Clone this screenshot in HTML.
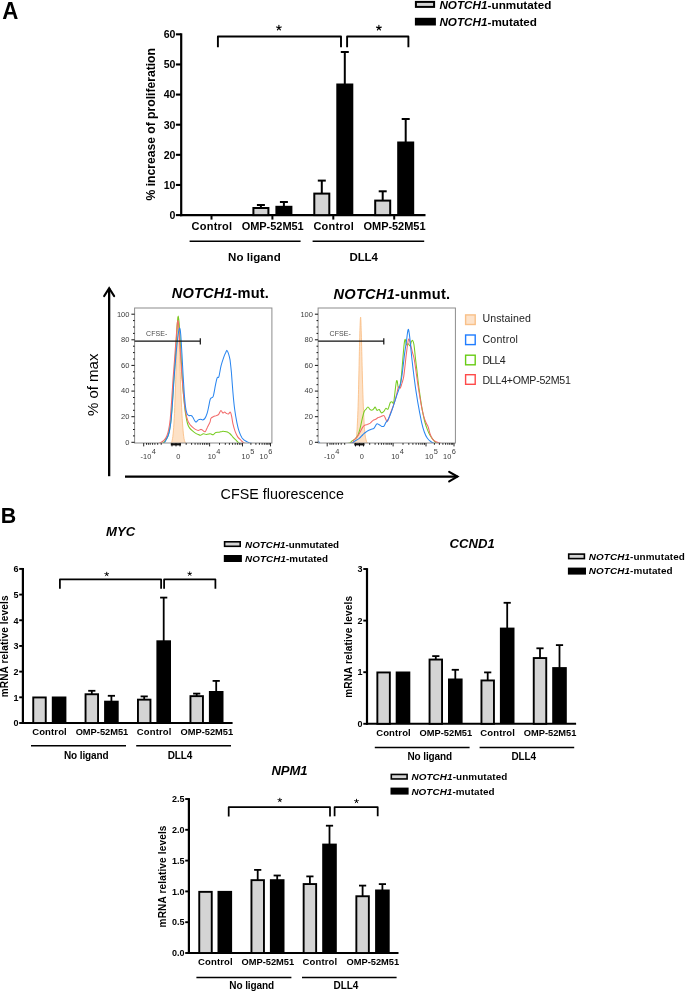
<!DOCTYPE html>
<html><head><meta charset="utf-8"><title>Figure</title>
<style>
html,body{margin:0;padding:0;background:#fff;}
body{width:685px;height:992px;overflow:hidden;font-family:"Liberation Sans",sans-serif;}
svg{display:block;font-family:"Liberation Sans",sans-serif;will-change:transform;}
</style></head><body>
<svg width="685" height="992" viewBox="0 0 685 992">
<rect x="0" y="0" width="685" height="992" fill="#fff"/>

<text transform="translate(2.2,19) scale(1,1.055)" font-size="22.3" font-weight="bold">A</text>
<text transform="translate(0.7,522.8) scale(0.96,1.03)" font-size="22.3" font-weight="bold">B</text>
<line x1="181.2" y1="33.3" x2="181.2" y2="216.2" stroke="#000" stroke-width="2.2" stroke-linecap="butt"/>
<line x1="180.1" y1="215.1" x2="425.5" y2="215.1" stroke="#000" stroke-width="2.2" stroke-linecap="butt"/>
<line x1="175.89999999999998" y1="215.1" x2="181.2" y2="215.1" stroke="#000" stroke-width="2.1" stroke-linecap="butt"/>
<text x="175.5" y="218.9" font-size="10.6" font-weight="bold" font-style="normal" text-anchor="end" fill="#000">0</text>
<line x1="175.89999999999998" y1="184.97" x2="181.2" y2="184.97" stroke="#000" stroke-width="2.1" stroke-linecap="butt"/>
<text x="175.5" y="188.77" font-size="10.6" font-weight="bold" font-style="normal" text-anchor="end" fill="#000">10</text>
<line x1="175.89999999999998" y1="154.84" x2="181.2" y2="154.84" stroke="#000" stroke-width="2.1" stroke-linecap="butt"/>
<text x="175.5" y="158.64000000000001" font-size="10.6" font-weight="bold" font-style="normal" text-anchor="end" fill="#000">20</text>
<line x1="175.89999999999998" y1="124.71" x2="181.2" y2="124.71" stroke="#000" stroke-width="2.1" stroke-linecap="butt"/>
<text x="175.5" y="128.51" font-size="10.6" font-weight="bold" font-style="normal" text-anchor="end" fill="#000">30</text>
<line x1="175.89999999999998" y1="94.58" x2="181.2" y2="94.58" stroke="#000" stroke-width="2.1" stroke-linecap="butt"/>
<text x="175.5" y="98.38" font-size="10.6" font-weight="bold" font-style="normal" text-anchor="end" fill="#000">40</text>
<line x1="175.89999999999998" y1="64.44999999999999" x2="181.2" y2="64.44999999999999" stroke="#000" stroke-width="2.1" stroke-linecap="butt"/>
<text x="175.5" y="68.24999999999999" font-size="10.6" font-weight="bold" font-style="normal" text-anchor="end" fill="#000">50</text>
<line x1="175.89999999999998" y1="34.31999999999999" x2="181.2" y2="34.31999999999999" stroke="#000" stroke-width="2.1" stroke-linecap="butt"/>
<text x="175.5" y="38.11999999999999" font-size="10.6" font-weight="bold" font-style="normal" text-anchor="end" fill="#000">60</text>
<text transform="translate(155.3,124.3) rotate(-90)" font-size="12.2" font-weight="bold" text-anchor="middle" fill="#000" textLength="152.5" lengthAdjust="spacing">% increase of proliferation</text>
<line x1="211.5" y1="215.1" x2="211.5" y2="219.6" stroke="#000" stroke-width="2" stroke-linecap="butt"/>
<line x1="272.4" y1="215.1" x2="272.4" y2="219.6" stroke="#000" stroke-width="2" stroke-linecap="butt"/>
<line x1="333.3" y1="215.1" x2="333.3" y2="219.6" stroke="#000" stroke-width="2" stroke-linecap="butt"/>
<line x1="394.2" y1="215.1" x2="394.2" y2="219.6" stroke="#000" stroke-width="2" stroke-linecap="butt"/>
<line x1="260.9" y1="205" x2="260.9" y2="208" stroke="#000" stroke-width="2" stroke-linecap="butt"/>
<line x1="256.9" y1="205" x2="264.9" y2="205" stroke="#000" stroke-width="2" stroke-linecap="butt"/>
<rect x="253.40" y="208.00" width="15.00" height="7.10" fill="#d4d4d4" stroke="#000" stroke-width="2"/>
<line x1="283.9" y1="202" x2="283.9" y2="206.8" stroke="#000" stroke-width="2" stroke-linecap="butt"/>
<line x1="279.9" y1="202" x2="287.9" y2="202" stroke="#000" stroke-width="2" stroke-linecap="butt"/>
<rect x="275.40" y="205.80" width="17.00" height="9.30" fill="#000"/>
<line x1="321.8" y1="180.6" x2="321.8" y2="193.6" stroke="#000" stroke-width="2" stroke-linecap="butt"/>
<line x1="317.8" y1="180.6" x2="325.8" y2="180.6" stroke="#000" stroke-width="2" stroke-linecap="butt"/>
<rect x="314.30" y="193.60" width="15.00" height="21.50" fill="#d4d4d4" stroke="#000" stroke-width="2"/>
<line x1="344.8" y1="52" x2="344.8" y2="84.5" stroke="#000" stroke-width="2" stroke-linecap="butt"/>
<line x1="340.8" y1="52" x2="348.8" y2="52" stroke="#000" stroke-width="2" stroke-linecap="butt"/>
<rect x="336.30" y="83.50" width="17.00" height="131.60" fill="#000"/>
<line x1="382.7" y1="191.3" x2="382.7" y2="200.6" stroke="#000" stroke-width="2" stroke-linecap="butt"/>
<line x1="378.7" y1="191.3" x2="386.7" y2="191.3" stroke="#000" stroke-width="2" stroke-linecap="butt"/>
<rect x="375.20" y="200.60" width="15.00" height="14.50" fill="#d4d4d4" stroke="#000" stroke-width="2"/>
<line x1="405.7" y1="119" x2="405.7" y2="142.5" stroke="#000" stroke-width="2" stroke-linecap="butt"/>
<line x1="401.7" y1="119" x2="409.7" y2="119" stroke="#000" stroke-width="2" stroke-linecap="butt"/>
<rect x="397.20" y="141.50" width="17.00" height="73.60" fill="#000"/>
<text x="211.8" y="229.7" font-size="11" font-weight="bold" font-style="normal" text-anchor="middle" fill="#000" textLength="40.4" lengthAdjust="spacing">Control</text>
<text x="272.7" y="229.7" font-size="11" font-weight="bold" font-style="normal" text-anchor="middle" fill="#000" textLength="62" lengthAdjust="spacing">OMP-52M51</text>
<text x="333.6" y="229.7" font-size="11" font-weight="bold" font-style="normal" text-anchor="middle" fill="#000" textLength="40.4" lengthAdjust="spacing">Control</text>
<text x="394.5" y="229.7" font-size="11" font-weight="bold" font-style="normal" text-anchor="middle" fill="#000" textLength="62" lengthAdjust="spacing">OMP-52M51</text>
<line x1="189.6" y1="241.3" x2="300.6" y2="241.3" stroke="#000" stroke-width="1.6" stroke-linecap="butt"/>
<line x1="312.6" y1="241.3" x2="424.2" y2="241.3" stroke="#000" stroke-width="1.6" stroke-linecap="butt"/>
<text x="254.4" y="260.6" font-size="11.5" font-weight="bold" font-style="normal" text-anchor="middle" fill="#000" textLength="52.6" lengthAdjust="spacing">No ligand</text>
<text x="363.7" y="260.6" font-size="11.5" font-weight="bold" font-style="normal" text-anchor="middle" fill="#000" textLength="28.5" lengthAdjust="spacing">DLL4</text>
<polyline points="217.9,47.3 217.9,36.5 341.0,36.5 341.0,47.3" fill="none" stroke="#000" stroke-width="1.9" stroke-linejoin="round"/>
<polyline points="347.1,47.3 347.1,36.5 408.4,36.5 408.4,47.3" fill="none" stroke="#000" stroke-width="1.9" stroke-linejoin="round"/>
<path d="M278.90,27.80L278.90,25.30 M278.90,27.80L281.28,27.03 M278.90,27.80L280.37,29.82 M278.90,27.80L277.43,29.82 M278.90,27.80L276.52,27.03" stroke="#000" stroke-width="1.15" stroke-linecap="round" fill="none"/>
<path d="M378.90,27.90L378.90,25.40 M378.90,27.90L381.28,27.13 M378.90,27.90L380.37,29.92 M378.90,27.90L377.43,29.92 M378.90,27.90L376.52,27.13" stroke="#000" stroke-width="1.15" stroke-linecap="round" fill="none"/>
<rect x="415.90" y="1.90" width="18.20" height="5.00" fill="#d4d4d4" stroke="#000" stroke-width="2.0"/>
<rect x="414.90" y="17.80" width="21.00" height="7.70" fill="#000"/>
<text x="439.4" y="8.8" font-size="11.7" font-weight="bold" textLength="112.0" lengthAdjust="spacing"><tspan font-style="italic">NOTCH1</tspan>-unmutated</text>
<text x="439.4" y="25.5" font-size="11.7" font-weight="bold" textLength="97.6" lengthAdjust="spacing"><tspan font-style="italic">NOTCH1</tspan>-mutated</text>
<line x1="109.15" y1="476.2" x2="109.15" y2="288" stroke="#000" stroke-width="2.3" stroke-linecap="butt"/>
<polyline points="104.2,296.0 109.15,288.2 114.1,296.0" fill="none" stroke="#000" stroke-width="2.2" stroke-linecap="round"/>
<line x1="125" y1="476.6" x2="457.6" y2="476.6" stroke="#000" stroke-width="2.2" stroke-linecap="butt"/>
<polyline points="449.2,471.9 457.4,476.6 449.2,481.4" fill="none" stroke="#000" stroke-width="2.2" stroke-linecap="round"/>
<text transform="translate(97.7,384.8) rotate(-90)" font-size="15" font-weight="normal" text-anchor="middle" fill="#000" textLength="62.5" lengthAdjust="spacing">% of max</text>
<text x="220.6" y="498.5" font-size="14.3" font-weight="normal" font-style="normal" text-anchor="start" fill="#000" textLength="123.3" lengthAdjust="spacing">CFSE fluorescence</text>
<text x="171.8" y="298.4" font-size="14.6" font-weight="bold" textLength="97" lengthAdjust="spacing"><tspan font-style="italic">NOTCH1</tspan>-mut.</text>
<clipPath id="clip134"><rect x="134.6" y="308.0" width="137.3" height="135.0"/></clipPath>
<g clip-path="url(#clip134)">
<path d="M170.9,443.4 C171.1,442.9 171.8,442.4 172.2,440.4 C172.6,438.4 173.1,435.2 173.4,430.9 C173.8,426.6 174.1,420.3 174.5,413.3 C174.8,406.3 175.1,396.1 175.5,387.0 C175.8,377.8 176.2,365.4 176.5,356.2 C176.8,347.1 177.1,336.2 177.4,329.9 C177.6,323.6 177.9,316.7 178.1,316.7 C178.3,316.7 178.6,323.6 178.8,329.9 C179.1,336.2 179.4,347.1 179.7,356.2 C180.0,365.4 180.4,377.8 180.7,387.0 C181.1,396.1 181.5,406.3 181.9,413.3 C182.3,420.3 182.7,426.6 183.1,430.9 C183.5,435.2 183.9,438.4 184.4,440.4 C184.9,442.4 185.8,442.9 186.0,443.4 Z" fill="#fde1c6" stroke="#f9c088" stroke-width="0.9"/>
<path d="M135.5,443.4 C138.1,443.4 147.7,443.4 151.9,443.4 C156.1,443.4 159.6,443.9 161.7,443.4 C163.9,442.9 164.4,441.6 165.4,440.4 C166.3,439.2 167.2,437.8 167.9,436.0 C168.5,434.3 169.1,432.1 169.6,429.4 C170.1,426.7 170.6,423.9 171.1,419.2 C171.5,414.5 172.1,406.7 172.5,400.1 C173.0,393.6 173.4,384.7 173.9,378.2 C174.3,371.6 174.8,365.5 175.2,359.1 C175.6,352.8 176.0,344.5 176.4,338.7 C176.7,332.8 177.1,326.2 177.4,322.6 C177.7,318.9 178.0,316.0 178.2,316.0 C178.5,316.0 178.8,318.9 179.1,322.6 C179.4,326.2 179.8,332.6 180.1,338.7 C180.5,344.8 181.0,353.8 181.3,360.6 C181.7,367.4 182.1,374.8 182.5,381.1 C182.9,387.4 183.4,394.8 184.0,400.1 C184.5,405.5 185.1,411.0 185.7,414.8 C186.3,418.5 186.9,421.4 187.5,423.5 C188.1,425.7 188.7,426.8 189.5,427.9 C190.3,429.1 191.5,430.1 192.5,430.9 C193.4,431.7 194.4,432.5 195.4,433.1 C196.3,433.7 197.5,434.2 198.3,434.5 C199.1,434.9 199.7,435.4 200.5,435.3 C201.3,435.1 202.5,433.9 203.4,433.8 C204.4,433.7 205.3,434.5 206.4,434.5 C207.4,434.5 209.3,433.9 210.0,433.8 C210.8,433.7 210.5,433.9 211.0,434.0 C211.5,434.2 212.4,434.9 213.2,434.7 C214.0,434.4 214.9,432.9 215.8,432.5 C216.8,432.1 218.4,432.4 219.3,432.3 C220.3,432.1 221.1,431.5 222.0,431.4 C222.8,431.2 223.7,431.3 224.6,431.4 C225.5,431.5 226.5,431.6 227.4,432.0 C228.4,432.5 229.4,433.2 230.3,434.0 C231.2,434.8 232.0,436.1 232.9,437.1 C233.8,438.1 234.9,439.1 236.0,440.1 C237.0,441.2 238.2,442.9 239.5,443.4 C240.8,444.0 241.8,443.4 243.9,443.4 C246.0,443.4 251.2,443.4 252.6,443.4" fill="none" stroke="#78cc22" stroke-width="1.05" stroke-linejoin="round"/>
<path d="M135.5,443.4 C138.1,443.4 148.2,443.4 151.9,443.4 C155.6,443.4 156.9,443.9 158.8,443.4 C160.7,442.9 162.6,441.6 163.9,440.4 C165.2,439.2 166.1,437.8 166.8,436.0 C167.6,434.3 168.2,432.1 168.7,429.4 C169.3,426.7 169.7,423.9 170.2,419.2 C170.7,414.5 171.2,406.7 171.7,400.1 C172.1,393.6 172.7,384.7 173.1,378.2 C173.6,371.6 174.1,365.5 174.6,359.1 C175.1,352.8 175.6,344.3 176.1,338.7 C176.5,333.1 177.0,327.0 177.2,324.0 C177.5,321.1 177.6,320.4 177.8,320.4 C178.0,320.4 178.3,321.3 178.5,324.0 C178.8,326.7 179.1,331.8 179.4,337.2 C179.8,342.6 180.3,350.9 180.7,357.7 C181.2,364.5 181.7,373.0 182.2,379.6 C182.7,386.3 183.4,394.0 184.0,399.4 C184.5,404.8 185.3,409.9 185.9,413.3 C186.5,416.7 187.1,418.9 187.8,420.6 C188.4,422.4 189.1,423.2 189.8,424.3 C190.6,425.3 191.6,426.4 192.5,427.2 C193.3,428.0 194.4,428.9 195.4,429.4 C196.3,429.9 197.4,430.4 198.3,430.4 C199.2,430.4 200.4,429.3 201.2,429.4 C202.1,429.5 202.8,430.5 203.4,430.9 C204.1,431.2 204.7,432.1 205.3,431.6 C205.9,431.1 206.3,429.5 207.1,427.9 C207.8,426.4 209.4,423.7 210.0,422.1 C210.6,420.6 210.4,419.1 211.0,418.2 C211.6,417.4 212.8,416.9 213.6,416.5 C214.5,416.1 215.7,416.0 216.5,415.6 C217.3,415.3 218.0,415.1 218.7,414.3 C219.4,413.5 220.2,410.8 220.9,410.6 C221.5,410.4 222.3,412.7 222.8,413.0 C223.4,413.2 224.0,412.0 224.6,412.1 C225.2,412.2 225.7,413.2 226.4,413.4 C227.0,413.7 227.9,414.1 228.5,413.9 C229.2,413.7 229.8,411.8 230.3,412.1 C230.8,412.5 231.2,414.2 231.6,416.1 C232.0,417.9 232.4,421.3 232.9,423.7 C233.5,426.2 234.3,429.3 235.1,431.4 C235.9,433.5 236.8,435.5 237.7,436.9 C238.6,438.3 239.6,439.1 240.8,440.1 C242.0,441.2 243.1,442.9 245.0,443.4 C246.9,444.0 251.4,443.4 252.6,443.4" fill="none" stroke="#f26a6a" stroke-width="1.05" stroke-linejoin="round"/>
<path d="M135.5,443.4 C138.1,443.4 147.5,443.4 151.9,443.4 C156.3,443.4 160.9,444.0 163.2,443.4 C165.4,442.8 165.3,441.0 166.1,439.7 C166.9,438.4 167.7,436.9 168.3,435.3 C168.9,433.6 169.3,432.0 169.8,429.4 C170.2,426.8 170.8,423.9 171.2,419.2 C171.7,414.5 172.2,406.7 172.7,400.1 C173.1,393.6 173.7,384.7 174.1,378.2 C174.6,371.6 175.1,364.8 175.6,359.1 C176.1,353.5 176.6,347.4 177.1,343.1 C177.5,338.7 178.1,334.5 178.5,332.1 C179.0,329.7 179.4,327.8 179.7,328.1 C180.1,328.5 180.4,330.2 180.7,334.3 C181.1,338.3 181.5,346.7 181.9,353.3 C182.3,359.9 182.7,368.9 183.1,375.3 C183.5,381.6 183.9,387.9 184.2,392.8 C184.6,397.7 185.0,402.7 185.4,406.0 C185.8,409.3 186.4,411.8 186.9,413.3 C187.4,414.8 188.1,415.2 188.8,415.5 C189.5,415.9 190.4,415.3 191.0,415.5 C191.6,415.7 192.2,416.2 192.7,417.0 C193.3,417.8 194.1,419.8 194.6,420.6 C195.2,421.5 195.5,422.2 196.1,422.1 C196.7,422.0 197.6,420.4 198.3,419.9 C199.0,419.4 199.8,419.2 200.5,419.2 C201.2,419.2 202.0,420.0 202.7,419.9 C203.4,419.8 204.2,419.5 204.9,418.4 C205.6,417.4 206.5,415.1 207.1,413.3 C207.7,411.6 208.1,409.6 208.5,407.5 C209.0,405.3 209.6,401.6 210.0,400.1 C210.4,398.6 210.5,398.7 211.0,398.1 C211.5,397.5 212.5,398.4 213.2,396.4 C213.9,394.3 214.8,388.4 215.4,385.4 C216.0,382.4 216.6,379.1 217.2,377.7 C217.7,376.3 218.3,378.6 218.9,376.6 C219.5,374.7 220.3,368.8 221.1,365.7 C221.9,362.6 223.0,359.4 223.7,357.4 C224.4,355.3 224.9,354.1 225.5,353.0 C226.0,351.9 226.5,350.3 227.0,350.4 C227.5,350.5 228.0,352.1 228.5,353.6 C229.0,355.2 229.6,357.2 230.1,360.2 C230.5,363.2 230.9,367.2 231.4,372.3 C231.8,377.3 232.4,386.0 232.9,392.0 C233.4,397.9 234.0,404.6 234.7,409.5 C235.3,414.4 236.2,419.1 236.9,422.6 C237.6,426.1 238.2,428.9 239.1,431.4 C239.9,433.8 241.0,436.4 242.1,438.0 C243.2,439.5 244.4,440.4 246.1,441.2 C247.7,442.1 248.8,443.1 252.6,443.4 C256.5,443.8 267.3,443.4 270.1,443.4" fill="none" stroke="#2a86f0" stroke-width="1.05" stroke-linejoin="round"/>
</g>
<rect x="134.6" y="308.0" width="137.3" height="135.0" fill="none" stroke="#8c8c8c" stroke-width="1"/>
<path d="M131.4,442.3H134.6 M133.0,435.9H134.6 M133.0,429.5H134.6 M133.0,423.1H134.6 M131.4,416.7H134.6 M133.0,410.3H134.6 M133.0,403.9H134.6 M133.0,397.5H134.6 M131.4,391.1H134.6 M133.0,384.7H134.6 M133.0,378.2H134.6 M133.0,371.8H134.6 M131.4,365.4H134.6 M133.0,359.0H134.6 M133.0,352.6H134.6 M133.0,346.2H134.6 M131.4,339.8H134.6 M133.0,333.4H134.6 M133.0,327.0H134.6 M133.0,320.6H134.6 M131.4,314.2H134.6" stroke="#111" stroke-width="1" fill="none"/>
<text x="129.4" y="444.6" font-size="7.5" text-anchor="end" fill="#3c3c3c">0</text>
<text x="129.4" y="419.0" font-size="7.5" text-anchor="end" fill="#3c3c3c">20</text>
<text x="129.4" y="393.4" font-size="7.5" text-anchor="end" fill="#3c3c3c">40</text>
<text x="129.4" y="367.7" font-size="7.5" text-anchor="end" fill="#3c3c3c">60</text>
<text x="129.4" y="342.1" font-size="7.5" text-anchor="end" fill="#3c3c3c">80</text>
<text x="129.4" y="316.5" font-size="7.5" text-anchor="end" fill="#3c3c3c">100</text>
<path d="M143.7,443.0v3.4 M209.6,443.0v3.4 M242.5,443.0v3.4 M270.5,443.0v3.4 M146.5,443.0v1.8 M148.4,443.0v1.8 M150.2,443.0v1.8 M152.6,443.0v1.8 M154.9,443.0v1.8 M157.7,443.0v1.8 M161.2,443.0v1.8 M186.2,443.0v1.8 M191.6,443.0v1.8 M195.1,443.0v1.8 M197.9,443.0v1.8 M200.2,443.0v1.8 M202.6,443.0v1.8 M204.4,443.0v1.8 M206.3,443.0v1.8 M207.9,443.0v1.8 M219.5,443.0v1.8 M225.3,443.0v1.8 M229.4,443.0v1.8 M232.6,443.0v1.8 M235.2,443.0v1.8 M237.4,443.0v1.8 M239.3,443.0v1.8 M241.0,443.0v1.8 M250.9,443.0v1.8 M255.9,443.0v1.8 M259.4,443.0v1.8 M262.1,443.0v1.8 M264.3,443.0v1.8 M266.2,443.0v1.8 M267.8,443.0v1.8 M269.2,443.0v1.8" stroke="#111" stroke-width="0.9" fill="none"/>
<rect x="170.8" y="443.2" width="10.2" height="2.2" fill="#111"/>
<path d="M172.0,443.0v3.4M176.0,443.0v3.4M180.0,443.0v3.4" stroke="#111" stroke-width="1" fill="none"/>
<text x="140.6" y="459.4" font-size="7.4" fill="#3c3c3c">-10<tspan dy="-5.2" dx="0.4">4</tspan></text>
<text x="176.3" y="459.4" font-size="7.4" fill="#3c3c3c">0</text>
<text x="207.7" y="459.4" font-size="7.4" fill="#3c3c3c">10<tspan dy="-5.2" dx="0.4">4</tspan></text>
<text x="241.6" y="459.4" font-size="7.4" fill="#3c3c3c">10<tspan dy="-5.2" dx="0.4">5</tspan></text>
<text x="259.6" y="459.4" font-size="7.4" fill="#3c3c3c">10<tspan dy="-5.2" dx="0.4">6</tspan></text>
<path d="M134.6,341.2H200.3M200.3,338.3V344.6" stroke="#111" stroke-width="1.2" fill="none"/>
<text x="146.1" y="335.8" font-size="7" fill="#4a4a4a" textLength="21.2" lengthAdjust="spacing">CFSE-</text>
<clipPath id="clip318"><rect x="318.1" y="308.0" width="137.3" height="135.0"/></clipPath>
<g clip-path="url(#clip318)">
<path d="M354.5,443.4 C354.7,442.9 355.6,442.4 356.0,440.1 C356.4,437.9 356.7,435.2 357.1,429.2 C357.4,423.2 357.9,413.1 358.2,402.9 C358.5,392.8 358.8,377.3 359.1,365.7 C359.3,354.1 359.7,338.4 359.9,330.7 C360.2,322.9 360.4,317.1 360.6,317.1 C360.8,317.1 361.0,322.9 361.2,330.7 C361.5,338.4 361.8,354.1 362.1,365.7 C362.4,377.3 362.8,392.8 363.2,402.9 C363.6,413.1 364.1,423.2 364.5,429.2 C365.0,435.2 365.5,437.9 366.1,440.1 C366.6,442.4 367.5,442.9 367.8,443.4 Z" fill="#fde1c6" stroke="#f9c088" stroke-width="0.9"/>
<path d="M318.8,443.4 C323.3,443.4 342.0,443.8 347.2,443.4 C352.5,443.1 350.4,441.9 351.6,441.2 C352.8,440.5 353.9,439.9 354.9,439.1 C355.9,438.2 356.9,437.3 357.7,435.8 C358.5,434.2 359.2,431.8 359.9,429.2 C360.6,426.6 361.5,422.1 362.1,419.3 C362.8,416.5 363.5,413.3 364.1,411.7 C364.7,410.0 365.4,409.8 366.1,409.1 C366.7,408.3 367.4,407.0 368.0,407.1 C368.7,407.2 369.3,409.0 370.0,409.5 C370.7,410.0 371.6,410.3 372.2,410.1 C372.8,410.0 373.5,409.1 373.9,408.6 C374.4,408.1 374.8,406.8 375.3,407.1 C375.7,407.4 376.4,410.0 377.0,410.4 C377.6,410.8 378.5,409.1 379.2,409.5 C379.9,409.9 380.7,412.4 381.4,412.8 C382.1,413.1 382.9,412.4 383.6,411.7 C384.3,411.0 385.1,408.8 385.8,408.4 C386.5,408.0 387.3,409.9 388.0,409.1 C388.7,408.2 389.5,404.1 390.1,402.9 C390.8,401.8 391.3,401.8 391.9,401.8 C392.5,401.8 393.2,404.5 393.6,402.9 C394.1,401.3 394.5,395.3 395.0,392.0 C395.4,388.6 395.9,383.9 396.3,382.1 C396.6,380.4 396.8,380.2 397.2,381.0 C397.5,381.8 397.8,386.3 398.2,387.2 C398.7,388.0 399.3,388.2 399.8,386.5 C400.3,384.8 400.8,381.0 401.3,376.6 C401.8,372.3 402.4,364.4 402.8,359.1 C403.3,353.9 403.8,346.9 404.2,343.8 C404.5,340.6 404.9,339.2 405.3,339.4 C405.6,339.6 406.1,344.2 406.6,344.9 C407.1,345.6 407.8,343.6 408.3,343.8 C408.9,344.0 409.6,346.3 410.1,346.0 C410.6,345.6 411.0,342.5 411.4,341.6 C411.8,340.7 412.3,340.0 412.7,340.5 C413.1,341.0 413.6,342.3 414.0,344.9 C414.4,347.5 414.9,352.9 415.3,356.9 C415.8,361.0 416.3,365.5 416.9,370.1 C417.4,374.6 418.0,380.7 418.6,385.4 C419.2,390.1 420.0,395.4 420.6,399.6 C421.2,403.8 421.9,408.2 422.6,411.7 C423.2,415.2 424.0,418.7 424.7,421.5 C425.5,424.4 426.5,427.4 427.4,429.6 C428.2,431.8 429.1,433.7 430.0,435.3 C430.9,436.9 431.9,438.4 433.1,439.7 C434.2,441.0 435.3,442.8 437.0,443.4 C438.7,444.0 441.1,443.4 443.6,443.4 C446.0,443.4 450.9,443.4 452.3,443.4" fill="none" stroke="#78cc22" stroke-width="1.05" stroke-linejoin="round"/>
<path d="M318.8,443.4 C323.7,443.4 343.8,444.0 349.4,443.4 C355.0,442.9 352.6,441.2 353.8,440.1 C355.0,439.1 356.1,438.1 357.1,436.9 C358.1,435.6 359.1,434.0 359.9,432.5 C360.8,431.0 361.8,428.6 362.6,427.4 C363.3,426.3 364.0,425.7 364.7,425.3 C365.5,424.8 366.5,424.7 367.4,424.4 C368.2,424.0 369.3,423.7 370.2,423.1 C371.1,422.4 372.2,421.0 373.1,420.4 C373.9,419.8 374.9,419.8 375.7,419.3 C376.5,418.9 377.4,418.0 378.3,417.6 C379.2,417.1 380.3,416.8 381.2,416.5 C382.1,416.2 383.3,415.2 384.0,415.6 C384.8,416.1 385.3,418.4 385.8,419.3 C386.3,420.3 386.7,421.8 387.1,421.8 C387.5,421.8 387.8,420.8 388.4,419.3 C389.0,417.9 389.9,414.7 390.6,412.8 C391.3,410.8 392.1,409.2 392.8,407.3 C393.5,405.4 394.3,402.8 395.0,400.7 C395.6,398.6 396.2,396.3 396.7,394.2 C397.2,392.1 397.8,388.8 398.2,387.6 C398.7,386.4 399.0,386.4 399.3,386.5 C399.7,386.6 400.0,388.6 400.4,388.0 C400.9,387.5 401.4,385.0 402.0,383.2 C402.5,381.4 403.2,379.8 403.7,376.6 C404.2,373.5 404.8,367.7 405.3,363.5 C405.7,359.3 406.3,354.2 406.8,350.4 C407.3,346.5 408.0,340.8 408.5,339.4 C409.0,338.0 409.4,340.4 409.9,341.6 C410.3,342.8 410.7,345.3 411.2,347.1 C411.6,348.8 412.0,350.6 412.5,352.6 C413.0,354.5 413.7,356.1 414.2,359.1 C414.8,362.1 415.4,367.0 416.0,371.2 C416.6,375.4 417.3,381.2 418.0,385.4 C418.6,389.6 419.3,393.6 419.9,397.4 C420.6,401.3 421.4,406.2 422.1,409.5 C422.8,412.8 423.6,416.0 424.3,418.2 C425.0,420.5 425.9,422.3 426.5,423.7 C427.1,425.1 427.7,425.4 428.2,427.0 C428.8,428.6 429.3,431.6 430.0,433.6 C430.7,435.5 431.7,437.8 432.6,439.1 C433.6,440.3 434.5,441.0 435.9,441.7 C437.3,442.4 438.8,443.2 441.4,443.4 C444.0,443.7 450.6,443.4 452.3,443.4" fill="none" stroke="#f26a6a" stroke-width="1.05" stroke-linejoin="round"/>
<path d="M318.3,441.0 C318.6,441.4 319.3,443.0 320.1,443.4 C320.8,443.8 318.4,443.4 323.1,443.4 C327.8,443.4 344.3,443.8 349.4,443.4 C354.5,443.0 353.3,441.8 354.9,441.0 C356.5,440.2 358.0,439.4 359.3,438.4 C360.6,437.3 361.9,435.5 363.0,434.5 C364.1,433.4 365.1,432.7 366.1,432.0 C367.0,431.4 367.8,430.7 368.7,430.3 C369.5,429.8 370.5,429.5 371.3,429.2 C372.2,428.9 373.1,429.2 373.9,428.3 C374.8,427.5 375.9,424.5 376.8,423.9 C377.6,423.4 378.4,424.4 379.2,424.8 C380.0,425.2 381.1,426.1 381.8,426.4 C382.6,426.6 383.4,426.7 384.0,426.1 C384.6,425.5 385.1,423.8 385.8,422.6 C386.5,421.5 387.6,420.5 388.4,418.9 C389.2,417.3 390.2,415.0 391.0,412.8 C391.9,410.6 392.8,407.7 393.6,405.1 C394.5,402.6 395.5,399.2 396.3,396.8 C397.1,394.3 398.0,392.1 398.7,389.8 C399.4,387.4 400.2,385.4 400.9,382.1 C401.5,378.8 402.3,373.5 402.8,369.0 C403.4,364.4 404.0,358.0 404.6,353.6 C405.2,349.3 405.8,345.5 406.4,341.6 C406.9,337.8 407.6,330.7 408.1,329.6 C408.6,328.4 409.0,331.8 409.4,334.6 C409.8,337.4 410.3,342.6 410.7,347.1 C411.2,351.5 411.7,357.7 412.3,362.4 C412.8,367.1 413.5,372.3 414.0,376.6 C414.6,381.0 415.2,385.8 415.8,389.8 C416.4,393.8 417.1,398.1 417.7,401.8 C418.4,405.5 419.0,409.3 419.7,412.8 C420.4,416.3 421.2,420.6 421.9,423.7 C422.6,426.8 423.5,429.8 424.3,432.0 C425.1,434.3 426.2,436.5 427.2,438.0 C428.1,439.4 429.2,440.4 430.4,441.2 C431.7,442.1 431.3,443.1 434.8,443.4 C438.3,443.8 449.5,443.4 452.3,443.4" fill="none" stroke="#2a86f0" stroke-width="1.05" stroke-linejoin="round"/>
</g>
<rect x="318.1" y="308.0" width="137.3" height="135.0" fill="none" stroke="#8c8c8c" stroke-width="1"/>
<path d="M314.9,442.3H318.1 M316.5,435.9H318.1 M316.5,429.5H318.1 M316.5,423.1H318.1 M314.9,416.7H318.1 M316.5,410.3H318.1 M316.5,403.9H318.1 M316.5,397.5H318.1 M314.9,391.1H318.1 M316.5,384.7H318.1 M316.5,378.2H318.1 M316.5,371.8H318.1 M314.9,365.4H318.1 M316.5,359.0H318.1 M316.5,352.6H318.1 M316.5,346.2H318.1 M314.9,339.8H318.1 M316.5,333.4H318.1 M316.5,327.0H318.1 M316.5,320.6H318.1 M314.9,314.2H318.1" stroke="#111" stroke-width="1" fill="none"/>
<text x="312.9" y="444.6" font-size="7.5" text-anchor="end" fill="#3c3c3c">0</text>
<text x="312.9" y="419.0" font-size="7.5" text-anchor="end" fill="#3c3c3c">20</text>
<text x="312.9" y="393.4" font-size="7.5" text-anchor="end" fill="#3c3c3c">40</text>
<text x="312.9" y="367.7" font-size="7.5" text-anchor="end" fill="#3c3c3c">60</text>
<text x="312.9" y="342.1" font-size="7.5" text-anchor="end" fill="#3c3c3c">80</text>
<text x="312.9" y="316.5" font-size="7.5" text-anchor="end" fill="#3c3c3c">100</text>
<path d="M327.2,443.0v3.4 M393.1,443.0v3.4 M426.0,443.0v3.4 M454.0,443.0v3.4 M330.0,443.0v1.8 M331.9,443.0v1.8 M333.7,443.0v1.8 M336.1,443.0v1.8 M338.4,443.0v1.8 M341.2,443.0v1.8 M344.7,443.0v1.8 M369.7,443.0v1.8 M375.1,443.0v1.8 M378.6,443.0v1.8 M381.4,443.0v1.8 M383.7,443.0v1.8 M386.1,443.0v1.8 M387.9,443.0v1.8 M389.8,443.0v1.8 M391.4,443.0v1.8 M403.0,443.0v1.8 M408.8,443.0v1.8 M412.9,443.0v1.8 M416.1,443.0v1.8 M418.7,443.0v1.8 M420.9,443.0v1.8 M422.8,443.0v1.8 M424.5,443.0v1.8 M434.4,443.0v1.8 M439.4,443.0v1.8 M442.9,443.0v1.8 M445.6,443.0v1.8 M447.8,443.0v1.8 M449.7,443.0v1.8 M451.3,443.0v1.8 M452.7,443.0v1.8" stroke="#111" stroke-width="0.9" fill="none"/>
<rect x="354.3" y="443.2" width="10.2" height="2.2" fill="#111"/>
<path d="M355.5,443.0v3.4M359.5,443.0v3.4M363.5,443.0v3.4" stroke="#111" stroke-width="1" fill="none"/>
<text x="324.1" y="459.4" font-size="7.4" fill="#3c3c3c">-10<tspan dy="-5.2" dx="0.4">4</tspan></text>
<text x="359.8" y="459.4" font-size="7.4" fill="#3c3c3c">0</text>
<text x="391.2" y="459.4" font-size="7.4" fill="#3c3c3c">10<tspan dy="-5.2" dx="0.4">4</tspan></text>
<text x="425.1" y="459.4" font-size="7.4" fill="#3c3c3c">10<tspan dy="-5.2" dx="0.4">5</tspan></text>
<text x="443.1" y="459.4" font-size="7.4" fill="#3c3c3c">10<tspan dy="-5.2" dx="0.4">6</tspan></text>
<path d="M318.1,341.2H383.8M383.8,338.3V344.6" stroke="#111" stroke-width="1.2" fill="none"/>
<text x="329.6" y="335.8" font-size="7" fill="#4a4a4a" textLength="21.2" lengthAdjust="spacing">CFSE-</text>
<text x="333.5" y="298.5" font-size="14.6" font-weight="bold" textLength="116.6" lengthAdjust="spacing"><tspan font-style="italic">NOTCH1</tspan>-unmut.</text>
<rect x="465.6" y="314.9" width="9.6" height="9.6" fill="#fde3cb" stroke="#f9c088" stroke-width="1.4"/>
<text x="482.4" y="321.9" font-size="10.6" fill="#222" textLength="48.6" lengthAdjust="spacing">Unstained</text>
<rect x="465.6" y="335.0" width="9.6" height="9.6" fill="#fff" stroke="#1f7cff" stroke-width="1.4"/>
<text x="482.4" y="343.4" font-size="10.6" fill="#222" textLength="35.5" lengthAdjust="spacing">Control</text>
<rect x="465.6" y="355.2" width="9.6" height="9.6" fill="#fff" stroke="#68cc14" stroke-width="1.4"/>
<text x="482.4" y="363.5" font-size="10.6" fill="#222" textLength="23.2" lengthAdjust="spacing">DLL4</text>
<rect x="465.6" y="374.7" width="9.6" height="9.6" fill="#fff" stroke="#ff4a4a" stroke-width="1.4"/>
<text x="482.4" y="383.9" font-size="10.6" fill="#222" textLength="88.5" lengthAdjust="spacing">DLL4+OMP-52M51</text>
<line x1="22.9" y1="568.0" x2="22.9" y2="724.0" stroke="#000" stroke-width="2.2" stroke-linecap="butt"/>
<line x1="21.799999999999997" y1="723.0" x2="232.6" y2="723.0" stroke="#000" stroke-width="2.1" stroke-linecap="butt"/>
<line x1="19.2" y1="723.0" x2="22.9" y2="723.0" stroke="#000" stroke-width="1.9" stroke-linecap="butt"/>
<text x="18.4" y="726.25" font-size="9" font-weight="bold" font-style="normal" text-anchor="end" fill="#000">0</text>
<line x1="19.2" y1="697.3166666666666" x2="22.9" y2="697.3166666666666" stroke="#000" stroke-width="1.9" stroke-linecap="butt"/>
<text x="18.4" y="700.5666666666666" font-size="9" font-weight="bold" font-style="normal" text-anchor="end" fill="#000">1</text>
<line x1="19.2" y1="671.6333333333333" x2="22.9" y2="671.6333333333333" stroke="#000" stroke-width="1.9" stroke-linecap="butt"/>
<text x="18.4" y="674.8833333333333" font-size="9" font-weight="bold" font-style="normal" text-anchor="end" fill="#000">2</text>
<line x1="19.2" y1="645.95" x2="22.9" y2="645.95" stroke="#000" stroke-width="1.9" stroke-linecap="butt"/>
<text x="18.4" y="649.2" font-size="9" font-weight="bold" font-style="normal" text-anchor="end" fill="#000">3</text>
<line x1="19.2" y1="620.2666666666667" x2="22.9" y2="620.2666666666667" stroke="#000" stroke-width="1.9" stroke-linecap="butt"/>
<text x="18.4" y="623.5166666666667" font-size="9" font-weight="bold" font-style="normal" text-anchor="end" fill="#000">4</text>
<line x1="19.2" y1="594.5833333333333" x2="22.9" y2="594.5833333333333" stroke="#000" stroke-width="1.9" stroke-linecap="butt"/>
<text x="18.4" y="597.8333333333333" font-size="9" font-weight="bold" font-style="normal" text-anchor="end" fill="#000">5</text>
<line x1="19.2" y1="568.9" x2="22.9" y2="568.9" stroke="#000" stroke-width="1.9" stroke-linecap="butt"/>
<text x="18.4" y="572.15" font-size="9" font-weight="bold" font-style="normal" text-anchor="end" fill="#000">6</text>
<text transform="translate(7.9,646.45) rotate(-90)" font-size="10" font-weight="bold" text-anchor="middle" fill="#000" textLength="101.8" lengthAdjust="spacing">mRNA relative levels</text>
<rect x="33.25" y="697.45" width="12.50" height="25.55" fill="#d4d4d4" stroke="#000" stroke-width="1.9"/>
<rect x="51.80" y="696.50" width="14.60" height="26.50" fill="#000"/>
<text x="49.45" y="735.4" font-size="9.5" font-weight="bold" font-style="normal" text-anchor="middle" fill="#000" textLength="34.6" lengthAdjust="spacing">Control</text>
<line x1="91.8" y1="690.8" x2="91.8" y2="694.3" stroke="#000" stroke-width="1.8" stroke-linecap="butt"/>
<line x1="88.2" y1="690.8" x2="95.39999999999999" y2="690.8" stroke="#000" stroke-width="1.8" stroke-linecap="butt"/>
<rect x="85.55" y="694.25" width="12.50" height="28.75" fill="#d4d4d4" stroke="#000" stroke-width="1.9"/>
<line x1="111.4" y1="695.8" x2="111.4" y2="701.7" stroke="#000" stroke-width="1.8" stroke-linecap="butt"/>
<line x1="107.80000000000001" y1="695.8" x2="115.0" y2="695.8" stroke="#000" stroke-width="1.8" stroke-linecap="butt"/>
<rect x="104.10" y="700.70" width="14.60" height="22.30" fill="#000"/>
<text x="101.95" y="735.4" font-size="9.3" font-weight="bold" font-style="normal" text-anchor="middle" fill="#000" textLength="52.6" lengthAdjust="spacing">OMP-52M51</text>
<line x1="144.2" y1="696.4" x2="144.2" y2="699.7" stroke="#000" stroke-width="1.8" stroke-linecap="butt"/>
<line x1="140.6" y1="696.4" x2="147.79999999999998" y2="696.4" stroke="#000" stroke-width="1.8" stroke-linecap="butt"/>
<rect x="137.95" y="699.65" width="12.50" height="23.35" fill="#d4d4d4" stroke="#000" stroke-width="1.9"/>
<line x1="163.7" y1="597.6" x2="163.7" y2="641.3" stroke="#000" stroke-width="1.8" stroke-linecap="butt"/>
<line x1="160.1" y1="597.6" x2="167.29999999999998" y2="597.6" stroke="#000" stroke-width="1.8" stroke-linecap="butt"/>
<rect x="156.40" y="640.30" width="14.60" height="82.70" fill="#000"/>
<text x="154.09999999999997" y="735.4" font-size="9.5" font-weight="bold" font-style="normal" text-anchor="middle" fill="#000" textLength="34.6" lengthAdjust="spacing">Control</text>
<line x1="196.7" y1="693.6" x2="196.7" y2="696.2" stroke="#000" stroke-width="1.8" stroke-linecap="butt"/>
<line x1="193.1" y1="693.6" x2="200.29999999999998" y2="693.6" stroke="#000" stroke-width="1.8" stroke-linecap="butt"/>
<rect x="190.45" y="696.15" width="12.50" height="26.85" fill="#d4d4d4" stroke="#000" stroke-width="1.9"/>
<line x1="216.2" y1="680.9" x2="216.2" y2="692.0" stroke="#000" stroke-width="1.8" stroke-linecap="butt"/>
<line x1="212.6" y1="680.9" x2="219.79999999999998" y2="680.9" stroke="#000" stroke-width="1.8" stroke-linecap="butt"/>
<rect x="208.90" y="691.00" width="14.60" height="32.00" fill="#000"/>
<text x="206.79999999999998" y="735.4" font-size="9.3" font-weight="bold" font-style="normal" text-anchor="middle" fill="#000" textLength="52.6" lengthAdjust="spacing">OMP-52M51</text>
<line x1="31" y1="745.8" x2="126" y2="745.8" stroke="#000" stroke-width="1.5" stroke-linecap="butt"/>
<line x1="136.2" y1="745.8" x2="231" y2="745.8" stroke="#000" stroke-width="1.5" stroke-linecap="butt"/>
<text x="86.3" y="759.0" font-size="10" font-weight="bold" font-style="normal" text-anchor="middle" fill="#000" textLength="44.8" lengthAdjust="spacing">No ligand</text>
<text x="180.0" y="759.0" font-size="10" font-weight="bold" font-style="normal" text-anchor="middle" fill="#000" textLength="24.6" lengthAdjust="spacing">DLL4</text>
<text x="106.0" y="536.0" font-size="13.1" font-weight="bold" font-style="italic" text-anchor="start" fill="#000" textLength="29.3" lengthAdjust="spacing">MYC</text>
<rect x="224.60" y="541.80" width="15.60" height="4.50" fill="#d4d4d4" stroke="#000" stroke-width="1.6"/>
<rect x="223.80" y="555.00" width="18.10" height="7.00" fill="#000"/>
<text x="245.1" y="547.8" font-size="9.8" font-weight="bold" textLength="94.0" lengthAdjust="spacing"><tspan font-style="italic">NOTCH1</tspan>-unmutated</text>
<text x="245.1" y="561.6" font-size="9.8" font-weight="bold" textLength="83.0" lengthAdjust="spacing"><tspan font-style="italic">NOTCH1</tspan>-mutated</text>
<polyline points="59.9,588.8 59.9,579.3 161.1,579.3 161.1,588.8" fill="none" stroke="#000" stroke-width="1.75" stroke-linejoin="round"/>
<polyline points="164.1,588.8 164.1,579.3 215.4,579.3 215.4,588.8" fill="none" stroke="#000" stroke-width="1.75" stroke-linejoin="round"/>
<path d="M106.70,574.20L106.70,572.25 M106.70,574.20L108.55,573.60 M106.70,574.20L107.85,575.78 M106.70,574.20L105.55,575.78 M106.70,574.20L104.85,573.60" stroke="#000" stroke-width="0.9" stroke-linecap="round" fill="none"/>
<path d="M189.70,573.80L189.70,571.85 M189.70,573.80L191.55,573.20 M189.70,573.80L190.85,575.38 M189.70,573.80L188.55,575.38 M189.70,573.80L187.85,573.20" stroke="#000" stroke-width="0.9" stroke-linecap="round" fill="none"/>
<line x1="367.0" y1="568.1" x2="367.0" y2="724.8" stroke="#000" stroke-width="2.2" stroke-linecap="butt"/>
<line x1="365.9" y1="723.8" x2="576.1" y2="723.8" stroke="#000" stroke-width="2.1" stroke-linecap="butt"/>
<line x1="363.3" y1="723.8" x2="367.0" y2="723.8" stroke="#000" stroke-width="1.9" stroke-linecap="butt"/>
<text x="362.5" y="727.05" font-size="9" font-weight="bold" font-style="normal" text-anchor="end" fill="#000">0</text>
<line x1="363.3" y1="672.1999999999999" x2="367.0" y2="672.1999999999999" stroke="#000" stroke-width="1.9" stroke-linecap="butt"/>
<text x="362.5" y="675.4499999999999" font-size="9" font-weight="bold" font-style="normal" text-anchor="end" fill="#000">1</text>
<line x1="363.3" y1="620.6" x2="367.0" y2="620.6" stroke="#000" stroke-width="1.9" stroke-linecap="butt"/>
<text x="362.5" y="623.85" font-size="9" font-weight="bold" font-style="normal" text-anchor="end" fill="#000">2</text>
<line x1="363.3" y1="569.0" x2="367.0" y2="569.0" stroke="#000" stroke-width="1.9" stroke-linecap="butt"/>
<text x="362.5" y="572.25" font-size="9" font-weight="bold" font-style="normal" text-anchor="end" fill="#000">3</text>
<text transform="translate(351.8,646.9) rotate(-90)" font-size="10" font-weight="bold" text-anchor="middle" fill="#000" textLength="101.8" lengthAdjust="spacing">mRNA relative levels</text>
<rect x="377.35" y="672.45" width="12.50" height="51.35" fill="#d4d4d4" stroke="#000" stroke-width="1.9"/>
<rect x="395.70" y="671.50" width="14.60" height="52.30" fill="#000"/>
<text x="393.44999999999993" y="736.2" font-size="9.5" font-weight="bold" font-style="normal" text-anchor="middle" fill="#000" textLength="34.6" lengthAdjust="spacing">Control</text>
<line x1="435.8" y1="656.1" x2="435.8" y2="659.6" stroke="#000" stroke-width="1.8" stroke-linecap="butt"/>
<line x1="432.2" y1="656.1" x2="439.40000000000003" y2="656.1" stroke="#000" stroke-width="1.8" stroke-linecap="butt"/>
<rect x="429.55" y="659.55" width="12.50" height="64.25" fill="#d4d4d4" stroke="#000" stroke-width="1.9"/>
<line x1="455.29999999999995" y1="669.8" x2="455.29999999999995" y2="679.5" stroke="#000" stroke-width="1.8" stroke-linecap="butt"/>
<line x1="451.69999999999993" y1="669.8" x2="458.9" y2="669.8" stroke="#000" stroke-width="1.8" stroke-linecap="butt"/>
<rect x="448.00" y="678.50" width="14.60" height="45.30" fill="#000"/>
<text x="445.9" y="736.2" font-size="9.3" font-weight="bold" font-style="normal" text-anchor="middle" fill="#000" textLength="52.6" lengthAdjust="spacing">OMP-52M51</text>
<line x1="487.7" y1="672.4" x2="487.7" y2="680.5" stroke="#000" stroke-width="1.8" stroke-linecap="butt"/>
<line x1="484.09999999999997" y1="672.4" x2="491.3" y2="672.4" stroke="#000" stroke-width="1.8" stroke-linecap="butt"/>
<rect x="481.45" y="680.45" width="12.50" height="43.35" fill="#d4d4d4" stroke="#000" stroke-width="1.9"/>
<line x1="507.2" y1="602.8" x2="507.2" y2="628.6" stroke="#000" stroke-width="1.8" stroke-linecap="butt"/>
<line x1="503.59999999999997" y1="602.8" x2="510.8" y2="602.8" stroke="#000" stroke-width="1.8" stroke-linecap="butt"/>
<rect x="499.90" y="627.60" width="14.60" height="96.20" fill="#000"/>
<text x="497.59999999999997" y="736.2" font-size="9.5" font-weight="bold" font-style="normal" text-anchor="middle" fill="#000" textLength="34.6" lengthAdjust="spacing">Control</text>
<line x1="540.0" y1="648.3" x2="540.0" y2="658.1" stroke="#000" stroke-width="1.8" stroke-linecap="butt"/>
<line x1="536.4" y1="648.3" x2="543.6" y2="648.3" stroke="#000" stroke-width="1.8" stroke-linecap="butt"/>
<rect x="533.75" y="658.05" width="12.50" height="65.75" fill="#d4d4d4" stroke="#000" stroke-width="1.9"/>
<line x1="559.5" y1="645.1" x2="559.5" y2="668.1" stroke="#000" stroke-width="1.8" stroke-linecap="butt"/>
<line x1="555.9" y1="645.1" x2="563.1" y2="645.1" stroke="#000" stroke-width="1.8" stroke-linecap="butt"/>
<rect x="552.20" y="667.10" width="14.60" height="56.70" fill="#000"/>
<text x="550.1" y="736.2" font-size="9.3" font-weight="bold" font-style="normal" text-anchor="middle" fill="#000" textLength="52.6" lengthAdjust="spacing">OMP-52M51</text>
<line x1="374.8" y1="747.6" x2="469.6" y2="747.6" stroke="#000" stroke-width="1.5" stroke-linecap="butt"/>
<line x1="479.6" y1="747.6" x2="574.2" y2="747.6" stroke="#000" stroke-width="1.5" stroke-linecap="butt"/>
<text x="429.80000000000007" y="760.3" font-size="10" font-weight="bold" font-style="normal" text-anchor="middle" fill="#000" textLength="44.8" lengthAdjust="spacing">No ligand</text>
<text x="523.7" y="760.3" font-size="10" font-weight="bold" font-style="normal" text-anchor="middle" fill="#000" textLength="24.6" lengthAdjust="spacing">DLL4</text>
<text x="449.5" y="548.0" font-size="13.1" font-weight="bold" font-style="italic" text-anchor="start" fill="#000" textLength="45.4" lengthAdjust="spacing">CCND1</text>
<rect x="568.70" y="554.10" width="15.70" height="4.50" fill="#d4d4d4" stroke="#000" stroke-width="1.6"/>
<rect x="567.90" y="567.60" width="18.10" height="7.00" fill="#000"/>
<text x="588.8" y="560.0" font-size="9.9" font-weight="bold" textLength="96.0" lengthAdjust="spacing"><tspan font-style="italic">NOTCH1</tspan>-unmutated</text>
<text x="588.8" y="574.3" font-size="9.9" font-weight="bold" textLength="83.8" lengthAdjust="spacing"><tspan font-style="italic">NOTCH1</tspan>-mutated</text>
<line x1="188.9" y1="798.1" x2="188.9" y2="954.0" stroke="#000" stroke-width="2.2" stroke-linecap="butt"/>
<line x1="187.8" y1="953.0" x2="398.5" y2="953.0" stroke="#000" stroke-width="2.1" stroke-linecap="butt"/>
<line x1="185.20000000000002" y1="953.0" x2="188.9" y2="953.0" stroke="#000" stroke-width="1.9" stroke-linecap="butt"/>
<text x="184.4" y="956.25" font-size="9" font-weight="bold" font-style="normal" text-anchor="end" fill="#000">0.0</text>
<line x1="185.20000000000002" y1="922.2" x2="188.9" y2="922.2" stroke="#000" stroke-width="1.9" stroke-linecap="butt"/>
<text x="184.4" y="925.45" font-size="9" font-weight="bold" font-style="normal" text-anchor="end" fill="#000">0.5</text>
<line x1="185.20000000000002" y1="891.4" x2="188.9" y2="891.4" stroke="#000" stroke-width="1.9" stroke-linecap="butt"/>
<text x="184.4" y="894.65" font-size="9" font-weight="bold" font-style="normal" text-anchor="end" fill="#000">1.0</text>
<line x1="185.20000000000002" y1="860.6" x2="188.9" y2="860.6" stroke="#000" stroke-width="1.9" stroke-linecap="butt"/>
<text x="184.4" y="863.85" font-size="9" font-weight="bold" font-style="normal" text-anchor="end" fill="#000">1.5</text>
<line x1="185.20000000000002" y1="829.8" x2="188.9" y2="829.8" stroke="#000" stroke-width="1.9" stroke-linecap="butt"/>
<text x="184.4" y="833.05" font-size="9" font-weight="bold" font-style="normal" text-anchor="end" fill="#000">2.0</text>
<line x1="185.20000000000002" y1="799.0" x2="188.9" y2="799.0" stroke="#000" stroke-width="1.9" stroke-linecap="butt"/>
<text x="184.4" y="802.25" font-size="9" font-weight="bold" font-style="normal" text-anchor="end" fill="#000">2.5</text>
<text transform="translate(166.0,876.5) rotate(-90)" font-size="10" font-weight="bold" text-anchor="middle" fill="#000" textLength="101.8" lengthAdjust="spacing">mRNA relative levels</text>
<rect x="199.25" y="891.85" width="12.50" height="61.15" fill="#d4d4d4" stroke="#000" stroke-width="1.9"/>
<rect x="217.50" y="890.90" width="14.60" height="62.10" fill="#000"/>
<text x="215.29999999999998" y="965.1" font-size="9.5" font-weight="bold" font-style="normal" text-anchor="middle" fill="#000" textLength="34.6" lengthAdjust="spacing">Control</text>
<line x1="257.7" y1="869.9" x2="257.7" y2="880.2" stroke="#000" stroke-width="1.8" stroke-linecap="butt"/>
<line x1="254.1" y1="869.9" x2="261.3" y2="869.9" stroke="#000" stroke-width="1.8" stroke-linecap="butt"/>
<rect x="251.45" y="880.15" width="12.50" height="72.85" fill="#d4d4d4" stroke="#000" stroke-width="1.9"/>
<line x1="277.19999999999993" y1="875.5" x2="277.19999999999993" y2="880.2" stroke="#000" stroke-width="1.8" stroke-linecap="butt"/>
<line x1="273.5999999999999" y1="875.5" x2="280.79999999999995" y2="875.5" stroke="#000" stroke-width="1.8" stroke-linecap="butt"/>
<rect x="269.90" y="879.20" width="14.60" height="73.80" fill="#000"/>
<text x="267.79999999999995" y="965.1" font-size="9.3" font-weight="bold" font-style="normal" text-anchor="middle" fill="#000" textLength="52.6" lengthAdjust="spacing">OMP-52M51</text>
<line x1="309.9" y1="876.4" x2="309.9" y2="884.1" stroke="#000" stroke-width="1.8" stroke-linecap="butt"/>
<line x1="306.29999999999995" y1="876.4" x2="313.5" y2="876.4" stroke="#000" stroke-width="1.8" stroke-linecap="butt"/>
<rect x="303.65" y="884.05" width="12.50" height="68.95" fill="#d4d4d4" stroke="#000" stroke-width="1.9"/>
<line x1="329.5" y1="825.7" x2="329.5" y2="844.6" stroke="#000" stroke-width="1.8" stroke-linecap="butt"/>
<line x1="325.9" y1="825.7" x2="333.1" y2="825.7" stroke="#000" stroke-width="1.8" stroke-linecap="butt"/>
<rect x="322.20" y="843.60" width="14.60" height="109.40" fill="#000"/>
<text x="319.84999999999997" y="965.1" font-size="9.5" font-weight="bold" font-style="normal" text-anchor="middle" fill="#000" textLength="34.6" lengthAdjust="spacing">Control</text>
<line x1="362.59999999999997" y1="885.6" x2="362.59999999999997" y2="896.3" stroke="#000" stroke-width="1.8" stroke-linecap="butt"/>
<line x1="358.99999999999994" y1="885.6" x2="366.2" y2="885.6" stroke="#000" stroke-width="1.8" stroke-linecap="butt"/>
<rect x="356.35" y="896.25" width="12.50" height="56.75" fill="#d4d4d4" stroke="#000" stroke-width="1.9"/>
<line x1="382.4" y1="884.1" x2="382.4" y2="890.5" stroke="#000" stroke-width="1.8" stroke-linecap="butt"/>
<line x1="378.79999999999995" y1="884.1" x2="386.0" y2="884.1" stroke="#000" stroke-width="1.8" stroke-linecap="butt"/>
<rect x="375.10" y="889.50" width="14.60" height="63.50" fill="#000"/>
<text x="372.84999999999997" y="965.1" font-size="9.3" font-weight="bold" font-style="normal" text-anchor="middle" fill="#000" textLength="52.6" lengthAdjust="spacing">OMP-52M51</text>
<line x1="196.4" y1="977.5" x2="291.4" y2="977.5" stroke="#000" stroke-width="1.5" stroke-linecap="butt"/>
<line x1="302.0" y1="977.5" x2="396.6" y2="977.5" stroke="#000" stroke-width="1.5" stroke-linecap="butt"/>
<text x="251.7" y="989.4" font-size="10" font-weight="bold" font-style="normal" text-anchor="middle" fill="#000" textLength="44.8" lengthAdjust="spacing">No ligand</text>
<text x="345.90000000000003" y="989.4" font-size="10" font-weight="bold" font-style="normal" text-anchor="middle" fill="#000" textLength="24.6" lengthAdjust="spacing">DLL4</text>
<text x="271.4" y="774.9" font-size="13.1" font-weight="bold" font-style="italic" text-anchor="start" fill="#000" textLength="36.2" lengthAdjust="spacing">NPM1</text>
<rect x="391.30" y="774.45" width="15.80" height="4.50" fill="#d4d4d4" stroke="#000" stroke-width="1.6"/>
<rect x="390.50" y="787.60" width="18.10" height="7.00" fill="#000"/>
<text x="411.4" y="780.4" font-size="9.9" font-weight="bold" textLength="96.0" lengthAdjust="spacing"><tspan font-style="italic">NOTCH1</tspan>-unmutated</text>
<text x="411.4" y="794.6" font-size="9.9" font-weight="bold" textLength="83.2" lengthAdjust="spacing"><tspan font-style="italic">NOTCH1</tspan>-mutated</text>
<polyline points="228.7,816.4 228.7,807.0 330.0,807.0 330.0,816.4" fill="none" stroke="#000" stroke-width="1.75" stroke-linejoin="round"/>
<polyline points="334.6,816.2 334.6,807.0 377.7,807.0 377.7,816.2" fill="none" stroke="#000" stroke-width="1.75" stroke-linejoin="round"/>
<path d="M279.80,800.20L279.80,798.25 M279.80,800.20L281.65,799.60 M279.80,800.20L280.95,801.78 M279.80,800.20L278.65,801.78 M279.80,800.20L277.95,799.60" stroke="#000" stroke-width="0.9" stroke-linecap="round" fill="none"/>
<path d="M356.50,801.20L356.50,799.25 M356.50,801.20L358.35,800.60 M356.50,801.20L357.65,802.78 M356.50,801.20L355.35,802.78 M356.50,801.20L354.65,800.60" stroke="#000" stroke-width="0.9" stroke-linecap="round" fill="none"/>
</svg>
</body></html>
